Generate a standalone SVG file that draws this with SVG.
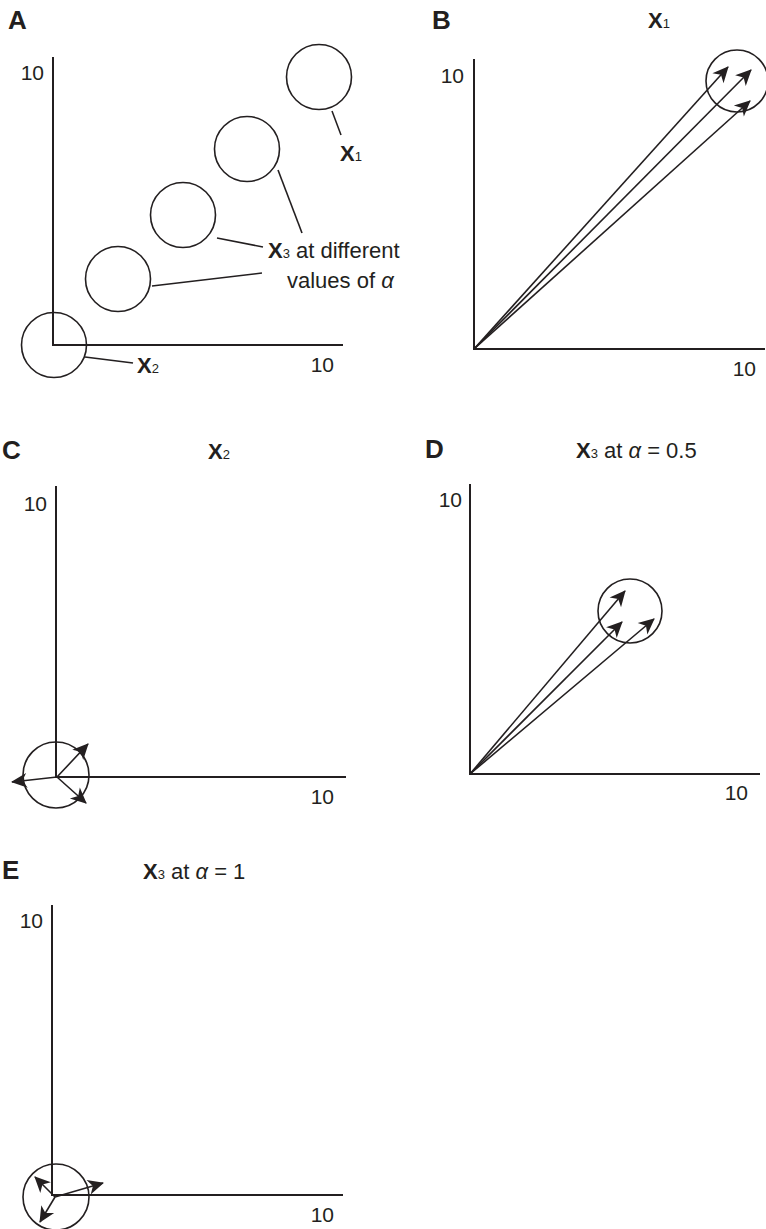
<svg xmlns="http://www.w3.org/2000/svg" width="766" height="1229" viewBox="0 0 766 1229">
<style>
.ax{stroke:#231f20;stroke-width:2;fill:none}
.c{stroke:#231f20;stroke-width:1.6;fill:none}
.ld{stroke:#231f20;stroke-width:1.6;fill:none}
.ar{stroke:#231f20;stroke-width:1.6;fill:none;marker-end:url(#ah)}
.t{font-family:"Liberation Sans",Arial,sans-serif;font-size:22px;fill:#231f20}
.n{font-family:"Liberation Sans",Arial,sans-serif;font-size:21px;fill:#231f20}
.pl{font-family:"Liberation Sans",Arial,sans-serif;font-size:26px;font-weight:bold;fill:#231f20}
.b{font-weight:bold}
.s{font-size:13px;font-weight:normal}
.i{font-style:italic}
</style>
<defs>
<marker id="ah" viewBox="-18 -9 20 18" markerWidth="20" markerHeight="18" refX="0" refY="0" orient="auto" markerUnits="userSpaceOnUse">
<path d="M1,0 L-15,-7.5 L-10.5,0 L-15,7.5 Z" fill="#231f20"/>
</marker>
</defs>
<g id="panelA">
<text class="pl" x="8" y="29">A</text>
<path class="ax" d="M53,57 V345 H343"/>
<text class="n" x="44" y="80" text-anchor="end">10</text>
<text class="n" x="334" y="372" text-anchor="end">10</text>
<circle id="A-x1" class="c" cx="319" cy="77" r="32.5"/>
<circle id="A-x3a" class="c" cx="247" cy="149" r="32.5"/>
<circle id="A-x3b" class="c" cx="183" cy="215" r="32.5"/>
<circle id="A-x3c" class="c" cx="118" cy="279" r="32.5"/>
<circle id="A-x2" class="c" cx="54" cy="345" r="32.5"/>
<g id="A-leaders">
<line class="ld" x1="332" y1="111" x2="341" y2="135"/>
<line class="ld" x1="278" y1="170" x2="302" y2="233"/>
<line class="ld" x1="217" y1="238" x2="263" y2="247"/>
<line class="ld" x1="152" y1="286" x2="262" y2="273"/>
<line class="ld" x1="85" y1="357" x2="133" y2="363"/>
</g>
<text class="t" x="340" y="161"><tspan class="b">X</tspan><tspan class="s">1</tspan></text>
<text class="t" x="268" y="258"><tspan class="b">X</tspan><tspan class="s">3</tspan> at different</text>
<text class="t" x="287" y="288">values of <tspan class="i">α</tspan></text>
<text class="t" x="137" y="373"><tspan class="b">X</tspan><tspan class="s">2</tspan></text>
</g>
<g id="panelB">
<text class="pl" x="432" y="29">B</text>
<text class="t" x="648" y="28"><tspan class="b">X</tspan><tspan class="s">1</tspan></text>
<path class="ax" d="M474,59 V349 H765"/>
<text class="n" x="464" y="83" text-anchor="end">10</text>
<text class="n" x="756" y="376" text-anchor="end">10</text>
<circle class="c" cx="737" cy="81" r="31"/>
<g id="B-arrows">
<line class="ar" x1="474" y1="349" x2="728" y2="67"/>
<line class="ar" x1="474" y1="349" x2="751" y2="70"/>
<line class="ar" x1="474" y1="349" x2="750" y2="101"/>
</g>
</g>
<g id="panelC">
<text class="pl" x="2" y="459">C</text>
<text class="t" x="208" y="459"><tspan class="b">X</tspan><tspan class="s">2</tspan></text>
<path class="ax" d="M56,486 V777 H346"/>
<text class="n" x="47" y="511" text-anchor="end">10</text>
<text class="n" x="334" y="804" text-anchor="end">10</text>
<circle class="c" cx="56" cy="775" r="33"/>
<g id="C-arrows">
<line class="ar" x1="57" y1="777" x2="88" y2="744"/>
<line class="ar" x1="57" y1="777" x2="12" y2="782"/>
<line class="ar" x1="57" y1="777" x2="86" y2="803"/>
</g>
</g>
<g id="panelD">
<text class="pl" x="425" y="458">D</text>
<text class="t" x="576" y="458"><tspan class="b">X</tspan><tspan class="s">3</tspan> at <tspan class="i">α</tspan> = 0.5</text>
<path class="ax" d="M470,484 V774 H760"/>
<text class="n" x="462" y="507" text-anchor="end">10</text>
<text class="n" x="748" y="800" text-anchor="end">10</text>
<circle class="c" cx="630" cy="611" r="32"/>
<g id="D-arrows">
<line class="ar" x1="470" y1="774" x2="625" y2="591"/>
<line class="ar" x1="470" y1="774" x2="622" y2="622"/>
<line class="ar" x1="470" y1="774" x2="654" y2="619"/>
</g>
</g>
<g id="panelE">
<text class="pl" x="2" y="879">E</text>
<text class="t" x="143" y="879"><tspan class="b">X</tspan><tspan class="s">3</tspan> at <tspan class="i">α</tspan> = 1</text>
<path class="ax" d="M52,905 V1195 H343"/>
<text class="n" x="43" y="928" text-anchor="end">10</text>
<text class="n" x="334" y="1222" text-anchor="end">10</text>
<circle class="c" cx="56" cy="1197" r="33"/>
<g id="E-arrows">
<line class="ar" x1="55" y1="1197" x2="35" y2="1177"/>
<line class="ar" x1="55" y1="1197" x2="103" y2="1183"/>
<line class="ar" x1="55" y1="1197" x2="40" y2="1222"/>
</g>
</g>
</svg>
